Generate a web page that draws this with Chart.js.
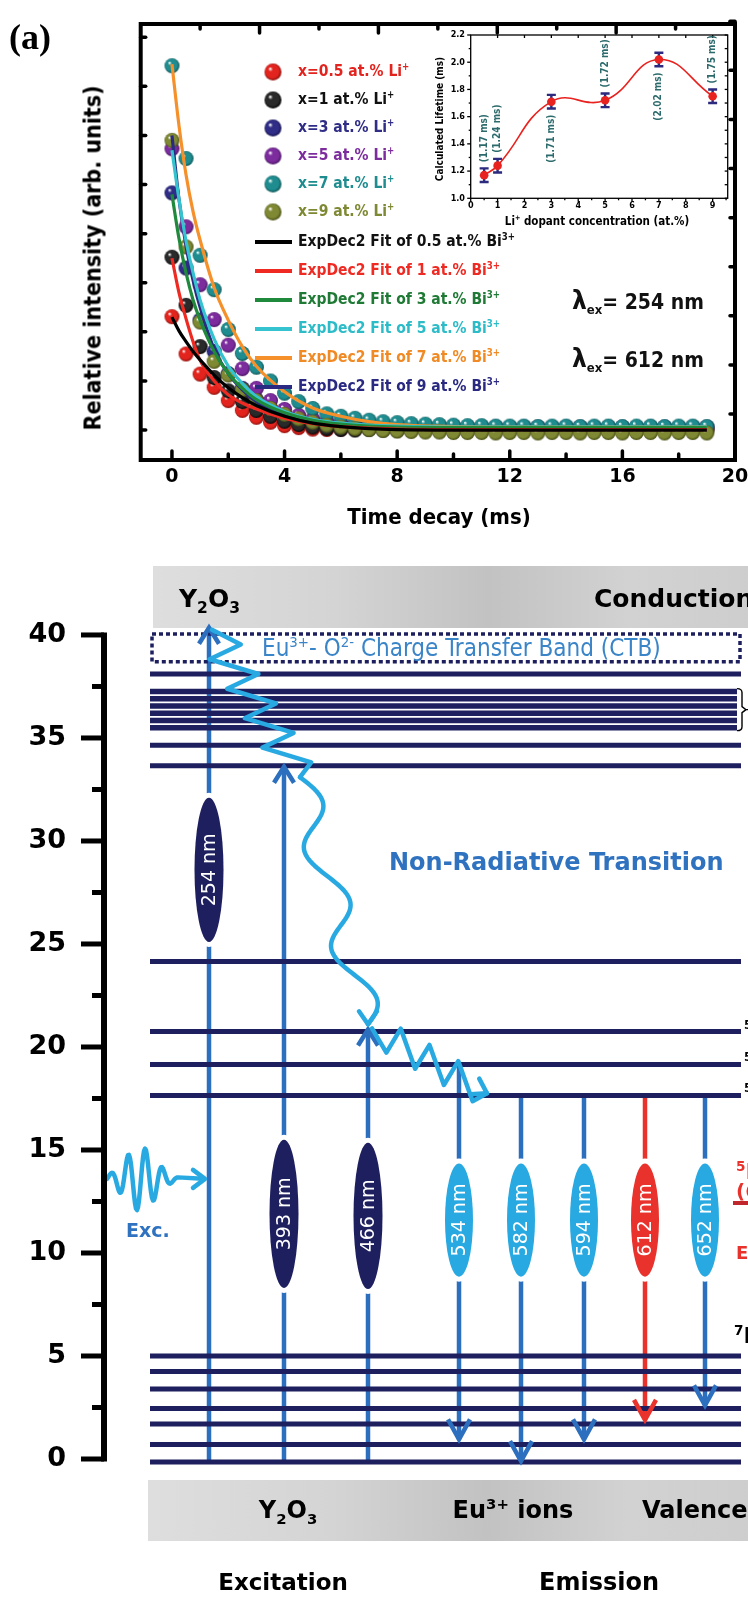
<!DOCTYPE html>
<html lang="en">
<head>
<meta charset="utf-8">
<title>Decay curves and Eu3+ energy levels</title>
<script src="https://cdn.jsdelivr.net/npm/chart.js@4.4.1/dist/chart.umd.min.js"></script>
<style>
  html, body { margin: 0; padding: 0; background: #fff; }
  #page { position: relative; width: 748px; height: 1599px; overflow: hidden; background: #fff; }
  #page canvas { position: absolute; }
  .t { position: absolute; white-space: nowrap; line-height: 1; font-weight: bold;
       font-family: "DejaVu Sans Condensed", "DejaVu Sans", sans-serif; font-stretch: condensed; }
  .w { font-family: "DejaVu Sans", sans-serif; font-stretch: normal; }
  .c { transform: translate(-50%, -50%); }
  .l { transform: translate(0, -50%); }
  .t sup, .t sub { font-size: 0.62em; line-height: 0; }
  .band { position: absolute; height: 62px;
          background: linear-gradient(to right, #dedede 0%, #d4d4d4 30%, #c2c2c2 55%, #d2d2d2 78%, #cdcdcd 100%); }
  .blue { color: #2f72bf; }
  .red { color: #e8322b; }
  .lg { font-size: 15.5px; }
</style>
</head>
<body>
<div id="page">
  <div class="band" style="left:153px;top:566px;width:610px;"></div>
  <div class="band" style="left:148px;top:1480px;width:615px;height:61px;"></div>

  <canvas id="decay" width="800" height="540" style="left:0;top:0"></canvas>
  <canvas id="inset" width="310" height="235" style="left:425px;top:25px"></canvas>
  <canvas id="levels" width="800" height="1059" style="left:0;top:540px"></canvas>

  <!-- panel (a) text -->
  <div class="t" style="left:9px;top:19px;font-family:'Liberation Serif',serif;font-stretch:normal;font-size:36px;">(a)</div>
  <div class="t c" style="left:93px;top:258px;font-size:23px;transform:translate(-50%,-50%) rotate(-90deg);">Relative intensity (arb. units)</div>
  <div class="t c" style="left:439px;top:517px;font-size:22px;">Time decay (ms)</div>

  <div class="t l lg" style="left:298px;top:72px;color:#e3241e;">x=0.5 at.% Li<sup>+</sup></div>
  <div class="t l lg" style="left:298px;top:100px;color:#111;">x=1 at.% Li<sup>+</sup></div>
  <div class="t l lg" style="left:298px;top:128px;color:#2f2d86;">x=3 at.% Li<sup>+</sup></div>
  <div class="t l lg" style="left:298px;top:156px;color:#7d2c9e;">x=5 at.% Li<sup>+</sup></div>
  <div class="t l lg" style="left:298px;top:184px;color:#1f8d90;">x=7 at.% Li<sup>+</sup></div>
  <div class="t l lg" style="left:298px;top:212px;color:#7f8832;">x=9 at.% Li<sup>+</sup></div>

  <div class="t l lg" style="left:298px;top:242px;color:#111;">ExpDec2 Fit of 0.5 at.% Bi<sup>3+</sup></div>
  <div class="t l lg" style="left:298px;top:271px;color:#ee2a22;">ExpDec2 Fit of 1 at.% Bi<sup>3+</sup></div>
  <div class="t l lg" style="left:298px;top:300px;color:#1f7a35;">ExpDec2 Fit of 3 at.% Bi<sup>3+</sup></div>
  <div class="t l lg" style="left:298px;top:329px;color:#2cbcc8;">ExpDec2 Fit of 5 at.% Bi<sup>3+</sup></div>
  <div class="t l lg" style="left:298px;top:358px;color:#f08a25;">ExpDec2 Fit of 7 at.% Bi<sup>3+</sup></div>
  <div class="t l lg" style="left:298px;top:387px;color:#2b2a82;">ExpDec2 Fit of 9 at.% Bi<sup>3+</sup></div>

  <div class="t l" style="left:572px;top:300px;font-size:21px;color:#111;"><span style="font-size:26px;">λ</span><sub>ex</sub>= 254 nm</div>
  <div class="t l" style="left:572px;top:358px;font-size:21px;color:#111;"><span style="font-size:26px;">λ</span><sub>ex</sub>= 612 nm</div>

  <div class="t c" style="left:440px;top:119px;font-size:10px;transform:translate(-50%,-50%) rotate(-90deg);">Calculated Lifetime (ms)</div>
  <div class="t c" style="left:597px;top:222px;font-size:11.5px;">Li<sup>+</sup> dopant concentration (at.%)</div>

  <!-- energy level diagram text -->
  <div class="t w l" style="left:179px;top:598px;font-size:25px;">Y<sub>2</sub>O<sub>3</sub></div>
  <div class="t w l" style="left:594px;top:598px;font-size:25px;">Conduction</div>
  <div class="t l" style="left:262px;top:648px;font-size:24px;font-weight:normal;color:#3a84c8;">Eu<sup>3+</sup>- O<sup>2-</sup> Charge Transfer Band (CTB)</div>
  <div class="t w l blue" style="left:389px;top:862px;font-size:24px;">Non-Radiative Transition</div>
  <div class="t w l blue" style="left:126px;top:1230px;font-size:19px;">Exc.</div>

  <div class="t l" style="left:744px;top:1024px;font-size:13px;">5</div>
  <div class="t l" style="left:744px;top:1056px;font-size:13px;">5</div>
  <div class="t l" style="left:744px;top:1087px;font-size:13px;">5</div>
  <div class="t w l red" style="left:736px;top:1172px;font-size:22px;"><sup>5</sup>D<sub>0</sub></div>
  <div class="t w l red" style="left:736px;top:1191px;font-size:20px;">(612 nm)</div>
  <div style="position:absolute;left:733px;top:1201px;width:20px;height:4px;background:#c0272d;"></div>
  <div class="t w l red" style="left:736px;top:1253px;font-size:18px;">Emission</div>
  <div class="t w l" style="left:734px;top:1336px;font-size:22px;"><sup>7</sup>F</div>

  <div class="t w c" style="left:288px;top:1510px;font-size:24px;">Y<sub>2</sub>O<sub>3</sub></div>
  <div class="t w c" style="left:513px;top:1510px;font-size:24px;">Eu<sup>3+</sup> ions</div>
  <div class="t w l" style="left:642px;top:1510px;font-size:24px;">Valence</div>
  <div class="t w c" style="left:283px;top:1582px;font-size:23px;">Excitation</div>
  <div class="t w c" style="left:599px;top:1582px;font-size:24px;">Emission</div>
</div>

<script>
// ---------- panel (a): PL decay, 254 nm excitation, 612 nm emission ----------
const decayTime = [0, 0.5, 1, 1.5, 2, 2.5, 3, 3.5, 4, 4.5, 5, 5.5, 6, 6.5, 7, 7.5, 8, 8.5, 9, 9.5,
                   10, 10.5, 11, 11.5, 12, 12.5, 13, 13.5, 14, 14.5, 15, 15.5, 16, 16.5, 17, 17.5, 18, 18.5, 19];
const li05 = [2.31, 1.55, 1.14, 0.87, 0.60, 0.40, 0.26, 0.16, 0.09, 0.05, 0.02, 0.01, 0.02,
              0.02, 0.03, 0.02, 0.01, 0.02, 0.03, 0.02, 0.02, 0.01, 0.02, 0.03, 0.02, 0.02, 0.01,
              0.02, 0.03, 0.02, 0.02, 0.01, 0.02, 0.03, 0.02, 0.02, 0.01, 0.02, 0.02];
const li1 = [3.52, 2.54, 1.70, 1.07, 0.80, 0.58, 0.40, 0.28, 0.18, 0.11, 0.06, 0.03, 0.01,
             0.00, 0.01, 0.00, -0.01, 0.00, 0.01, 0.00, 0.00, -0.01, 0.00, 0.01, 0.00, 0.00, -0.01,
             0.00, 0.01, 0.00, 0.00, -0.01, 0.00, 0.01, 0.00, 0.00, -0.01, 0.00, 0.00];
const li3 = [4.83, 3.30, 2.24, 1.60, 1.15, 0.85, 0.62, 0.45, 0.33, 0.25, 0.19, 0.15, 0.12,
             0.10, 0.09, 0.08, 0.07, 0.07, 0.06, 0.06, 0.06, 0.05, 0.06, 0.06, 0.05, 0.06, 0.06,
             0.05, 0.06, 0.06, 0.05, 0.06, 0.06, 0.05, 0.06, 0.06, 0.05, 0.06, 0.06];
const li5 = [5.73, 4.14, 2.96, 2.25, 1.73, 1.25, 0.85, 0.60, 0.42, 0.30, 0.22, 0.17, 0.13,
             0.11, 0.09, 0.08, 0.07, 0.06, 0.06, 0.05, 0.05, 0.05, 0.04, 0.05, 0.05, 0.04, 0.05,
             0.05, 0.04, 0.05, 0.05, 0.04, 0.05, 0.05, 0.04, 0.05, 0.05, 0.04, 0.05];
const li7 = [7.42, 5.53, 3.56, 2.86, 2.05, 1.56, 1.28, 1.00, 0.75, 0.58, 0.44, 0.33, 0.28,
             0.24, 0.20, 0.17, 0.15, 0.13, 0.12, 0.11, 0.10, 0.09, 0.09, 0.08, 0.08, 0.08, 0.07,
             0.08, 0.08, 0.07, 0.08, 0.08, 0.07, 0.08, 0.08, 0.07, 0.08, 0.08, 0.07];
const li9 = [5.90, 3.73, 2.20, 1.40, 1.12, 0.82, 0.60, 0.44, 0.32, 0.23, 0.16, 0.10, 0.06,
             0.03, 0.01, -0.01, -0.02, -0.03, -0.04, -0.04, -0.05, -0.05, -0.05, -0.06, -0.05, -0.05, -0.06,
             -0.05, -0.05, -0.06, -0.05, -0.05, -0.06, -0.05, -0.05, -0.06, -0.05, -0.05, -0.06];

// ExpDec2 fit curves at these times
const fitTime = [0, 0.25, 0.5, 0.75, 1, 1.5, 2, 2.5, 3, 4, 5, 6, 7, 8, 10, 13, 16, 19];
const fit05 = [2.30, 2.02, 1.80, 1.60, 1.43, 1.12, 0.86, 0.66, 0.50, 0.28, 0.14, 0.07, 0.03, 0.01, 0.00, 0.00, 0.00, 0.00];
const fit1  = [3.50, 2.80, 2.27, 1.80, 1.42, 1.00, 0.72, 0.55, 0.43, 0.24, 0.13, 0.07, 0.04, 0.02, 0.01, 0.01, 0.01, 0.01];
const fit3  = [4.80, 3.90, 3.20, 2.65, 2.24, 1.60, 1.15, 0.85, 0.62, 0.35, 0.20, 0.12, 0.08, 0.06, 0.05, 0.05, 0.05, 0.05];
const fit5  = [5.70, 4.70, 3.85, 3.20, 2.65, 1.85, 1.30, 0.95, 0.68, 0.38, 0.22, 0.14, 0.10, 0.08, 0.06, 0.06, 0.06, 0.06];
const fit7  = [7.45, 6.20, 5.20, 4.45, 3.87, 2.90, 2.24, 1.70, 1.30, 0.78, 0.45, 0.28, 0.17, 0.11, 0.07, 0.06, 0.06, 0.06];
const fit9  = [6.00, 4.70, 3.75, 3.05, 2.50, 1.65, 1.15, 0.82, 0.58, 0.30, 0.16, 0.10, 0.07, 0.05, 0.04, 0.04, 0.04, 0.04];
const timeTicks = [0, 4, 8, 12, 16, 20];

// ---------- inset: lifetime vs Li+ content ----------
const liConc = [0.5, 1, 3, 5, 7, 9];
const lifetime = [1.17, 1.24, 1.71, 1.72, 2.02, 1.75];
const lifetimeErr = [0.05, 0.05, 0.05, 0.05, 0.05, 0.05];
const lifetimeLabels = ['(1.17 ms)', '(1.24 ms)', '(1.71 ms)', '(1.72 ms)', '(2.02 ms)', '(1.75 ms)'];
const concTicks = [0, 1, 2, 3, 4, 5, 6, 7, 8, 9];
const lifetimeTicks = [1.0, 1.2, 1.4, 1.6, 1.8, 2.0, 2.2];

// ---------- energy level diagram (x10^3 cm-1) ----------
const levelEnergy = [38.1, 34.65, 33.65, 24.15, 20.75, 19.15, 17.65, 5.0, 4.25, 3.4, 2.45, 1.7, 0.7, -0.15];
const bandEnergy = [37.25, 36.9, 36.55, 36.2, 35.85, 35.5];
const ctbRange = [38.7, 40.05];
const excLabels = ['254 nm', '393 nm', '466 nm'];
const excTop = [40.35, 33.6, 20.85];
const emLabels = ['534 nm', '582 nm', '594 nm', '612 nm', '652 nm'];
const emStart = [19.15, 17.65, 17.65, 17.65, 17.65];
const emEnd = [0.95, -0.1, 0.95, 1.9, 2.6];
const energyTicks = [0, 5, 10, 15, 20, 25, 30, 35, 40];

// ---------- styles / layout ----------
const FONT = "'DejaVu Sans Condensed', 'DejaVu Sans', sans-serif";
const dotColors = [['#e3241e', '#7e0b07'], ['#2a2a2a', '#000000'], ['#2f2d86', '#121048'],
                   ['#7d2c9e', '#3f0f58'], ['#1f8d90', '#0a4b4d'], ['#7f8832', '#3f4510']];
const fitColors = ['#000000', '#ee2a22', '#1f8a3b', '#35c3cf', '#f6902b', '#2b2a82'];
const NAVY = '#1d1f5f';
const ARROW = '#2c6fbe';
const WAVE = '#29a9e1';
const RED = '#e8322b';
const excLane = [209, 284, 368];
const excOval = [[28.6, 3.5], [11.9, 3.6], [11.8, 3.55]];
const emLane = [459, 521, 584, 645, 705];
const emOval = [11.6, 2.75];
const emFill = [WAVE, WAVE, WAVE, RED, WAVE];
const emLine = [ARROW, ARROW, ARROW, RED, ARROW];

Chart.defaults.font.family = FONT;
Chart.defaults.color = '#000';

// axis boxes keep the size given here; no extra room for the end labels
const fixWidth = w => s => { s.width = w; s.paddingTop = 0; s.paddingBottom = 0; };
const fixHeight = h => s => { s.height = h; s.paddingLeft = 0; s.paddingRight = 0; };

function makeSphere(base, dark, r) {
    const size = Math.ceil(r * 2) + 2;
    const c = document.createElement('canvas');
    c.width = c.height = size;
    const g = c.getContext('2d');
    const m = size / 2;
    const grad = g.createRadialGradient(m - r * 0.35, m - r * 0.4, r * 0.05, m, m, r * 1.05);
    grad.addColorStop(0, '#ffffff');
    grad.addColorStop(0.22, base);
    grad.addColorStop(0.72, base);
    grad.addColorStop(1, dark);
    g.fillStyle = grad;
    g.beginPath();
    g.arc(m, m, r, 0, Math.PI * 2);
    g.fill();
    return c;
}

const dotSprites = dotColors.map(([b, d]) => makeSphere(b, d, 7.5));
const legendSprites = dotColors.map(([b, d]) => makeSphere(b, d, 8.5));

function arrowHead(ctx, x, y, dx, dy, len, half) {
    const n = Math.hypot(dx, dy);
    dx /= n; dy /= n;
    ctx.beginPath();
    ctx.moveTo(x - dx * len - dy * half, y - dy * len + dx * half);
    ctx.lineTo(x, y);
    ctx.lineTo(x - dx * len + dy * half, y - dy * len - dx * half);
    ctx.stroke();
}

// frame, inward ticks and legend symbols for panel (a)
const decayDecor = {
    id: 'decayDecor',
    afterDraw(chart) {
        const { ctx, chartArea: a, scales: { x, y } } = chart;
        const w = a.right - a.left;
        ctx.save();
        ctx.strokeStyle = '#000';
        ctx.lineCap = 'round';
        ctx.lineWidth = 3.5;
        for (let t = 0; t < 20; t += 2) {
            const px = x.getPixelForValue(t);
            const len = t % 4 === 0 ? 9 : 6;
            ctx.beginPath(); ctx.moveTo(px, a.bottom); ctx.lineTo(px, a.bottom - len); ctx.stroke();
        }
        for (let k = 1; k < 10; k++) {
            const px = a.left + k * w / 10;
            const len = k % 2 === 0 ? 9 : 5;
            ctx.beginPath(); ctx.moveTo(px, a.top); ctx.lineTo(px, a.top + len); ctx.stroke();
        }
        for (let v = 0; v <= 8; v++) {
            const py = y.getPixelForValue(v);
            ctx.beginPath(); ctx.moveTo(a.left, py); ctx.lineTo(a.left + 5, py); ctx.stroke();
            ctx.beginPath(); ctx.moveTo(a.right, py - 16); ctx.lineTo(a.right - 5, py - 16); ctx.stroke();
        }
        ctx.lineCap = 'butt';
        ctx.lineWidth = 4;
        ctx.strokeRect(a.left, a.top, w, a.bottom - a.top);

        // legend symbols
        [72, 100, 128, 156, 184, 212].forEach((ry, i) => {
            const s = legendSprites[i];
            ctx.drawImage(s, 273 - s.width / 2, ry - s.height / 2);
        });
        [242, 271, 300, 329, 358, 387].forEach((ry, i) => {
            ctx.strokeStyle = fitColors[i];
            ctx.lineWidth = 4;
            ctx.beginPath(); ctx.moveTo(255, ry); ctx.lineTo(292, ry); ctx.stroke();
        });
        ctx.restore();
    }
};

const dotSeries = [li05, li1, li3, li5, li7, li9];
const fitSeries = [fit05, fit1, fit3, fit5, fit7, fit9];

new Chart(document.getElementById('decay'), {
    type: 'line',
    data: {
        datasets: [
            ...fitSeries.map((vals, i) => ({
                data: fitTime.map((t, k) => ({ x: t, y: vals[k] })),
                borderColor: fitColors[i],
                borderWidth: 3.2,
                pointRadius: 0,
                cubicInterpolationMode: 'monotone',
                order: 0
            })),
            ...dotSeries.map((vals, i) => ({
                data: decayTime.map((t, k) => ({ x: t, y: vals[k] })),
                showLine: false,
                pointStyle: dotSprites[i],
                pointRadius: 7.5,
                order: 6 - i
            }))
        ]
    },
    options: {
        responsive: false,
        animation: false,
        events: [],
        layout: { padding: { left: 140.7, top: 24, right: 65, bottom: 0 } },
        plugins: { legend: { display: false }, tooltip: { enabled: false } },
        scales: {
            x: {
                type: 'linear', min: -1.11, max: 20,
                afterFit: fixHeight(80),
                afterBuildTicks: s => { s.ticks = timeTicks.map(v => ({ value: v })); },
                grid: { display: false, drawTicks: false },
                border: { display: false },
                ticks: { font: { family: "'DejaVu Sans', sans-serif", size: 19, weight: 'bold' }, padding: 6, maxRotation: 0, autoSkip: false }
            },
            y: { type: 'linear', min: -0.61, max: 8.27, display: false }
        }
    },
    plugins: [decayDecor]
});

// white plot, frame, ticks, error bars and value labels for the inset
const labelSide = [1, 1, -1, 1, -1, 1];
const insetDecor = {
    id: 'insetDecor',
    beforeDatasetsDraw(chart) {
        const { ctx, chartArea: a, scales: { x, y } } = chart;
        ctx.save();
        ctx.fillStyle = '#fff';
        ctx.fillRect(a.left, a.top, a.right - a.left, a.bottom - a.top);
        ctx.strokeStyle = '#2b2a7e';
        ctx.lineWidth = 2.4;
        liConc.forEach((c, i) => {
            const px = x.getPixelForValue(c);
            const top = y.getPixelForValue(lifetime[i] + lifetimeErr[i]);
            const bot = y.getPixelForValue(lifetime[i] - lifetimeErr[i]);
            ctx.beginPath();
            ctx.moveTo(px, top); ctx.lineTo(px, bot);
            ctx.moveTo(px - 4.5, top); ctx.lineTo(px + 4.5, top);
            ctx.moveTo(px - 4.5, bot); ctx.lineTo(px + 4.5, bot);
            ctx.stroke();
        });
        ctx.restore();
    },
    afterDatasetsDraw(chart) {
        const { ctx, chartArea: a, scales: { x, y } } = chart;
        ctx.save();
        ctx.strokeStyle = '#000';
        ctx.lineWidth = 1.3;
        ctx.strokeRect(a.left, a.top, a.right - a.left, a.bottom - a.top);
        for (let v = 0; v <= 9.5; v += 0.5) {
            const px = x.getPixelForValue(v);
            const len = v % 1 === 0 ? 3.5 : 2;
            ctx.beginPath(); ctx.moveTo(px, a.bottom); ctx.lineTo(px, a.bottom + len); ctx.stroke();
            if (v % 1 === 0 && v > 0) {
                ctx.beginPath(); ctx.moveTo(px, a.top); ctx.lineTo(px, a.top + 3); ctx.stroke();
            }
        }
        for (let v = 1.0; v <= 2.21; v += 0.1) {
            const py = y.getPixelForValue(v);
            const major = Math.round(v * 10) % 2 === 0;
            ctx.beginPath(); ctx.moveTo(a.left, py); ctx.lineTo(a.left - (major ? 3.5 : 2), py); ctx.stroke();
            ctx.beginPath(); ctx.moveTo(a.right, py); ctx.lineTo(a.right - 3, py); ctx.stroke();
        }
        ctx.fillStyle = '#2c6a6c';
        ctx.font = "bold 10px " + FONT;
        ctx.textAlign = 'center';
        ctx.textBaseline = 'middle';
        lifetimeLabels.forEach((lab, i) => {
            const px = x.getPixelForValue(liConc[i]);
            const py = y.getPixelForValue(lifetime[i]) - labelSide[i] * 37;
            ctx.save();
            ctx.translate(px, py);
            ctx.rotate(-Math.PI / 2);
            ctx.fillText(lab, 0, 0);
            ctx.restore();
        });
        ctx.restore();
    }
};

new Chart(document.getElementById('inset'), {
    type: 'line',
    data: {
        datasets: [{
            data: liConc.map((c, i) => ({ x: c, y: lifetime[i] })),
            borderColor: '#e8231f',
            borderWidth: 1.6,
            tension: 0.45,
            pointRadius: 4.3,
            pointBackgroundColor: '#e8231f',
            pointBorderWidth: 0
        }]
    },
    options: {
        responsive: false,
        animation: false,
        events: [],
        layout: { padding: { left: 0, top: 10, right: 7.3, bottom: 0 } },
        plugins: { legend: { display: false }, tooltip: { enabled: false } },
        scales: {
            x: {
                type: 'linear', min: 0, max: 9.56,
                afterFit: fixHeight(61.7),
                afterBuildTicks: s => { s.ticks = concTicks.map(v => ({ value: v })); },
                grid: { display: false, drawTicks: false },
                border: { display: false },
                ticks: { font: { size: 9, weight: 'bold' }, padding: 2, maxRotation: 0, autoSkip: false }
            },
            y: {
                type: 'linear', min: 1.0, max: 2.2,
                afterFit: fixWidth(45.7),
                afterBuildTicks: s => { s.ticks = lifetimeTicks.map(v => ({ value: v })); },
                grid: { display: false, drawTicks: false },
                border: { display: false },
                ticks: { font: { size: 9, weight: 'bold' }, padding: 5.7, autoSkip: false, callback: v => v.toFixed(1) }
            }
        }
    },
    plugins: [insetDecor]
});

// ---------- diagram decorations: CTB box, ovals, arrow heads, wavy arrows, axis ----------
const diagramDecor = {
    id: 'diagramDecor',
    afterDatasetsDraw(chart) {
        const { ctx, scales: { x, y } } = chart;
        const X = v => x.getPixelForValue(v);
        const Y = e => y.getPixelForValue(e);
        ctx.save();

        // charge transfer band (dotted box)
        ctx.strokeStyle = NAVY;
        ctx.lineWidth = 3.5;
        ctx.setLineDash([4, 3]);
        ctx.strokeRect(X(152), Y(ctbRange[1]), X(740) - X(152), Y(ctbRange[0]) - Y(ctbRange[1]));
        ctx.setLineDash([]);

        // brace at the right of the level band
        const bt = Y(bandEnergy[0]) - 3, bb = Y(bandEnergy[bandEnergy.length - 1]) + 3, bm = (bt + bb) / 2;
        ctx.strokeStyle = '#000';
        ctx.lineWidth = 1.4;
        ctx.beginPath();
        ctx.moveTo(737, bt);
        ctx.quadraticCurveTo(742, bt, 742, bt + 4);
        ctx.lineTo(742, bm - 3); ctx.lineTo(746, bm); ctx.lineTo(742, bm + 3);
        ctx.lineTo(742, bb - 4);
        ctx.quadraticCurveTo(742, bb, 737, bb);
        ctx.moveTo(746, bm); ctx.lineTo(752, bm);
        ctx.stroke();

        // ovals carrying the wavelengths
        const oval = (cx, ce, half, rx, fill, text) => {
            const cy = Y(ce);
            const ry = Y(ce - half) - cy;
            ctx.beginPath();
            ctx.ellipse(cx, cy, rx, ry, 0, 0, Math.PI * 2);
            ctx.strokeStyle = '#fff';
            ctx.lineWidth = 10;
            ctx.stroke();
            ctx.fillStyle = fill;
            ctx.fill();
            ctx.save();
            ctx.translate(cx, cy);
            ctx.rotate(-Math.PI / 2);
            ctx.fillStyle = '#fff';
            ctx.font = "19px 'DejaVu Sans', sans-serif";
            ctx.textAlign = 'center';
            ctx.textBaseline = 'middle';
            ctx.fillText(text, 0, 1);
            ctx.restore();
        };
        excLabels.forEach((lab, i) => oval(X(excLane[i]), excOval[i][0], excOval[i][1], 14.5, NAVY, lab));
        emLabels.forEach((lab, i) => oval(X(emLane[i]), emOval[0], emOval[1], 14, emFill[i], lab));

        // arrow heads
        ctx.lineWidth = 4.5;
        ctx.lineJoin = 'miter';
        ctx.strokeStyle = ARROW;
        excTop.forEach((e, i) => arrowHead(ctx, X(excLane[i]), Y(e), 0, -1, 16, 10));
        emEnd.forEach((e, i) => {
            ctx.strokeStyle = emLine[i];
            arrowHead(ctx, X(emLane[i]), Y(e), 0, 1, 20, 11);
        });

        // wavy non-radiative relaxation
        ctx.strokeStyle = WAVE;
        ctx.lineWidth = 4.5;
        ctx.lineJoin = 'round';
        ctx.lineCap = 'round';
        const zig = (x0, y0, x1, y1, n, ox, oy) => {
            ctx.beginPath();
            for (let i = 0; i <= n; i++) {
                const f = i / n;
                const s = i === 0 || i === n ? 0 : (i % 2 ? 1 : -1);
                const px = x0 + (x1 - x0) * f + s * ox;
                const py = y0 + (y1 - y0) * f + s * oy;
                i ? ctx.lineTo(px, py) : ctx.moveTo(px, py);
            }
            ctx.stroke();
        };
        zig(X(212), Y(40.25), X(300), Y(33.1), 10, 20, 0);

        const ax = X(300), ay = Y(33.1), bx = X(368), by = Y(21.1);
        ctx.beginPath();
        for (let k = 0; k <= 120; k++) {
            const f = k / 120;
            const px = ax + (bx - ax) * f + 16 * Math.sin(2 * Math.PI * 2.5 * f);
            const py = ay + (by - ay) * f;
            k ? ctx.lineTo(px, py) : ctx.moveTo(px, py);
        }
        ctx.stroke();
        arrowHead(ctx, bx, by, 0, 1, 13, 9);

        const cx0 = X(372), cy0 = Y(20.9), dx1 = X(487), dy1 = Y(17.75);
        zig(cx0, cy0, dx1, dy1, 8, 0, 16);
        arrowHead(ctx, dx1, dy1, dx1 - cx0, dy1 - cy0, 14, 9);

        // incoming excitation photon
        const base = Y(13.6);
        ctx.beginPath();
        for (let px = 107; px <= 178; px++) {
            const env = Math.exp(-Math.pow((px - 140) / 22, 2));
            const py = base - 32 * env * Math.sin(2 * Math.PI * (px - 107) / 17);
            px === 107 ? ctx.moveTo(px, py) : ctx.lineTo(px, py);
        }
        ctx.lineTo(203, base);
        ctx.stroke();
        arrowHead(ctx, 205, base, 1, 0, 12, 9);

        // energy axis with major / minor ticks
        ctx.strokeStyle = '#000';
        ctx.lineCap = 'butt';
        ctx.lineWidth = 6;
        ctx.beginPath();
        ctx.moveTo(104, Y(energyTicks[energyTicks.length - 1]) - 2.5);
        ctx.lineTo(104, Y(energyTicks[0]) + 2.5);
        ctx.stroke();
        ctx.lineWidth = 5;
        energyTicks.forEach((e, i) => {
            ctx.beginPath(); ctx.moveTo(81, Y(e)); ctx.lineTo(104, Y(e)); ctx.stroke();
            if (i < energyTicks.length - 1) {
                const m = (e + energyTicks[i + 1]) / 2;
                ctx.beginPath(); ctx.moveTo(92, Y(m)); ctx.lineTo(104, Y(m)); ctx.stroke();
            }
        });
        ctx.restore();
    }
};

const groundLevel = Math.min(...levelEnergy);
new Chart(document.getElementById('levels'), {
    type: 'line',
    data: {
        datasets: [
            ...levelEnergy.map(e => ({
                data: [{ x: 150, y: e }, { x: 741, y: e }],
                borderColor: NAVY, borderWidth: 5, pointRadius: 0
            })),
            ...bandEnergy.map(e => ({
                data: [{ x: 150, y: e }, { x: 737, y: e }],
                borderColor: NAVY, borderWidth: 5.5, pointRadius: 0
            })),
            ...excTop.map((e, i) => ({
                data: [{ x: excLane[i], y: groundLevel }, { x: excLane[i], y: e }],
                borderColor: ARROW, borderWidth: 4.5, pointRadius: 0
            })),
            ...emStart.map((e, i) => ({
                data: [{ x: emLane[i], y: e }, { x: emLane[i], y: emEnd[i] }],
                borderColor: emLine[i], borderWidth: 4.5, pointRadius: 0
            }))
        ]
    },
    options: {
        responsive: false,
        animation: false,
        events: [],
        plugins: { legend: { display: false }, tooltip: { enabled: false } },
        scales: {
            x: { type: 'linear', min: 105, max: 800, display: false },
            y: {
                type: 'linear', min: -6.796, max: 44.61,
                afterFit: fixWidth(105),
                afterBuildTicks: s => { s.ticks = energyTicks.map(v => ({ value: v })); },
                grid: { display: false, drawTicks: false },
                border: { display: false },
                ticks: { font: { family: "'DejaVu Sans', sans-serif", size: 27, weight: 'bold' }, padding: 39, autoSkip: false }
            }
        }
    },
    plugins: [diagramDecor]
});
</script>
</body>
</html>
